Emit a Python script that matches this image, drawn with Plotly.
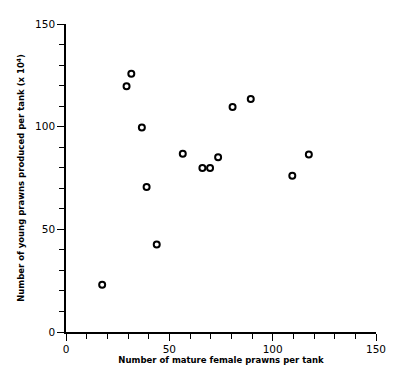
import plotly.graph_objects as go

females = [17.5, 29.3, 31.6, 36.7, 39.0, 43.9, 56.5, 66.0, 69.7, 73.6, 80.6, 89.4, 109.5, 117.5]
young = [23.0, 119.7, 125.8, 99.6, 70.6, 42.6, 86.8, 79.9, 79.9, 85.1, 109.6, 113.5, 76.1, 86.5]
tick_vals = [0, 50, 100, 150]
tick_text = ["0", "50", "100", "150"]

fig = go.Figure()
fig.add_trace(go.Scatter(
    x=females, y=young, mode="markers",
    marker=dict(symbol="circle", size=6, color="white",
                line=dict(color="black", width=2)),
    showlegend=False, cliponaxis=False,
))

axis_common = dict(
    range=[0, 150], showgrid=False, zeroline=False,
    showline=True, linecolor="black", linewidth=1.5,
    ticks="outside", tickcolor="black", tickwidth=1.3, ticklen=7,
    tickmode="array", tickvals=tick_vals, ticktext=tick_text,
    minor=dict(ticks="outside", dtick=10, tick0=0, ticklen=5,
               tickcolor="black", tickwidth=1.2, showgrid=False),
    tickfont=dict(family="DejaVu Sans", size=10.5, color="black"),
)

fig.update_layout(
    width=400, height=385,
    margin=dict(l=58, r=32, t=10, b=61),
    paper_bgcolor="white", plot_bgcolor="white",
    xaxis=dict(**axis_common,
               title=dict(text="<b>Number of mature female prawns per tank</b>",
                          font=dict(family="DejaVu Sans", size=8.5, color="black"), standoff=3)),
    yaxis=dict(**axis_common,
               title=dict(text="<b>Number of young prawns produced per tank (x 10<sup>4</sup>)</b>",
                          font=dict(family="DejaVu Sans", size=8.5, color="black"), standoff=9)),
)

fig.write_html("out.html")
